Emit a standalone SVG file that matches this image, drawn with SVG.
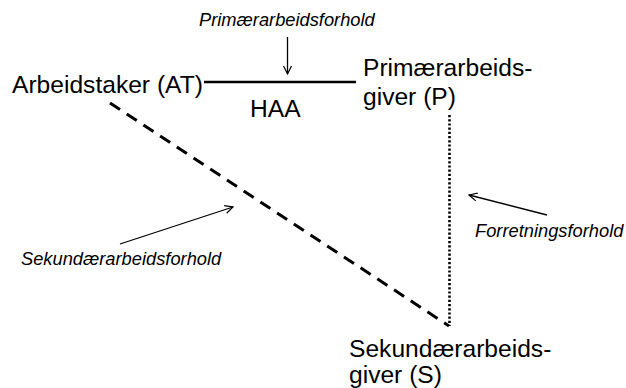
<svg xmlns="http://www.w3.org/2000/svg" width="626" height="388" viewBox="0 0 626 388">
<style>
.t{font-family:"Liberation Sans",Arial,sans-serif;font-size:24.6px;fill:#000}
.i{font-family:"Liberation Sans",Arial,sans-serif;font-size:18.3px;font-style:italic;fill:#000}
.ln{stroke:#000;fill:none}
</style>
<defs>
<marker id="ah" markerWidth="10" markerHeight="10" refX="9" refY="5" orient="auto" markerUnits="userSpaceOnUse">
<path d="M1,1 L9,5 L1,9" fill="none" stroke="#000" stroke-width="1.2"/>
</marker>
</defs>
<rect width="626" height="388" fill="#fff"/>
<g id="connectors">
<line class="ln" x1="204" y1="82" x2="356" y2="82" stroke-width="2.5"/>
<line class="ln" x1="110" y1="103" x2="449" y2="326" stroke-width="3" stroke-dasharray="12,8"/>
<line class="ln" x1="449.5" y1="115" x2="449.5" y2="326" stroke-width="2.6" stroke-dasharray="2.2,2"/>
<line class="ln" x1="287.5" y1="37" x2="287.5" y2="74" stroke-width="1.3" marker-end="url(#ah)"/>
<line class="ln" x1="120" y1="244" x2="233" y2="207" stroke-width="1.3" marker-end="url(#ah)"/>
<line class="ln" x1="547" y1="215" x2="469" y2="195" stroke-width="1.3" marker-end="url(#ah)"/>
</g>
<g id="AT"><text class="t" x="12" y="93">Arbeidstaker (AT)</text></g>
<g id="HAA"><text class="t" x="250" y="117">HAA</text></g>
<g id="P"><text class="t" x="363" y="76">Primærarbeids-</text><text class="t" x="363" y="105">giver (P)</text></g>
<g id="S"><text class="t" x="349" y="357">Sekundærarbeids-</text><text class="t" x="349" y="383">giver (S)</text></g>
<g id="lbl-prim"><text class="i" x="199" y="26">Primærarbeidsforhold</text></g>
<g id="lbl-sek"><text class="i" x="21" y="265">Sekundærarbeidsforhold</text></g>
<g id="lbl-forr"><text class="i" x="475" y="237">Forretningsforhold</text></g>
</svg>
